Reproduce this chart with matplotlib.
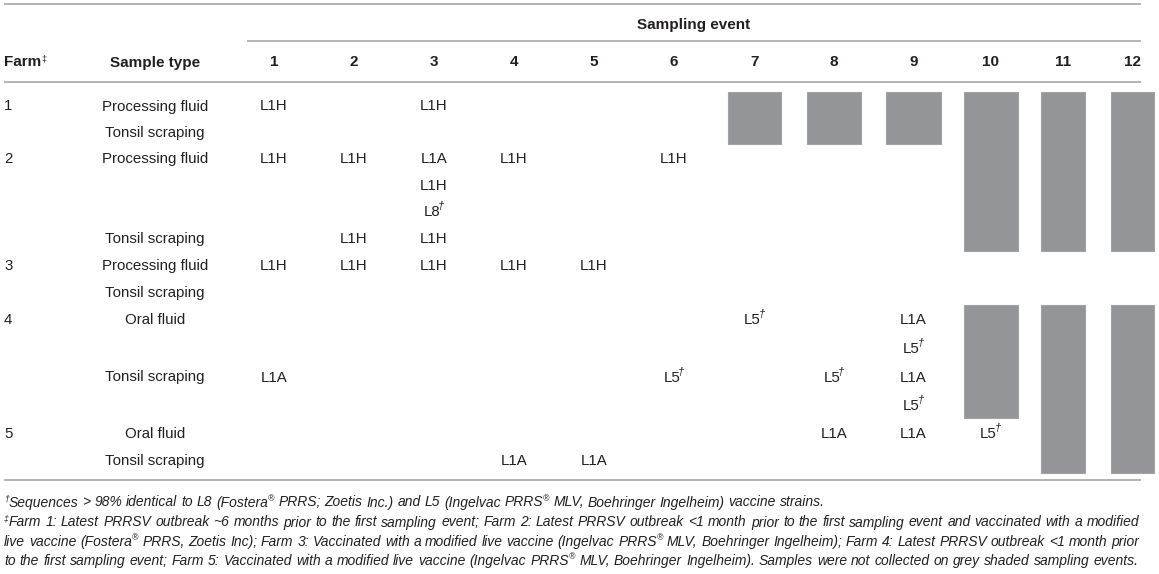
import matplotlib
matplotlib.use("Agg")
import matplotlib.pyplot as plt
from matplotlib import font_manager as fm

# ---------------- data ----------------
events = ["1", "2", "3", "4", "5", "6", "7", "8", "9", "10", "11", "12"]
farm_labels = ["1", "", "2", "", "", "", "3", "", "4", "", "", "", "5", ""]
sample_labels = ["Processing fluid", "Tonsil scraping",
                 "Processing fluid", "", "", "Tonsil scraping",
                 "Processing fluid", "Tonsil scraping",
                 "Oral fluid", "", "Tonsil scraping", "",
                 "Oral fluid", "Tonsil scraping"]
# (row index, sampling event, lineage, vaccine-like flag)
detections = [
    (0, 1, "L1H", False), (0, 3, "L1H", False),
    (2, 1, "L1H", False), (2, 2, "L1H", False), (2, 3, "L1A", False),
    (2, 4, "L1H", False), (2, 6, "L1H", False),
    (3, 3, "L1H", False), (4, 3, "L8", True),
    (5, 2, "L1H", False), (5, 3, "L1H", False),
    (6, 1, "L1H", False), (6, 2, "L1H", False), (6, 3, "L1H", False),
    (6, 4, "L1H", False), (6, 5, "L1H", False),
    (8, 7, "L5", True), (8, 9, "L1A", False),
    (9, 9, "L5", True),
    (10, 1, "L1A", False), (10, 6, "L5", True), (10, 8, "L5", True),
    (10, 9, "L1A", False),
    (11, 9, "L5", True),
    (12, 8, "L1A", False), (12, 9, "L1A", False), (12, 10, "L5", True),
    (13, 4, "L1A", False), (13, 5, "L1A", False),
]
# (sampling event, first row, last row) not collected
shaded = [(7, 0, 1), (8, 0, 1), (9, 0, 1),
          (10, 0, 5), (10, 8, 11),
          (11, 0, 5), (11, 8, 13),
          (12, 0, 5), (12, 8, 13)]
header_title = "Sampling event"
footnote1 = ("†Sequences > 98% identical to L8 (Fostera® PRRS; Zoetis Inc.) and L5 "
             "(Ingelvac PRRS® MLV, Boehringer Ingelheim) vaccine strains.")
footnote2_lines = [
    "‡Farm 1: Latest PRRSV outbreak ~6 months prior to the first sampling event; Farm 2: "
    "Latest PRRSV outbreak <1 month prior to the first sampling event and vaccinated with a modified",
    "live vaccine (Fostera® PRRS, Zoetis Inc); Farm 3: Vaccinated with a modified live vaccine "
    "(Ingelvac PRRS® MLV, Boehringer Ingelheim); Farm 4: Latest PRRSV outbreak <1 month prior",
    "to the first sampling event; Farm 5: Vaccinated with a modified live vaccine (Ingelvac "
    "PRRS® MLV, Boehringer Ingelheim). Samples were not collected on grey shaded sampling events.",
]

# ---------------- layout ----------------
W, H = 1159, 574
col_x = [274, 354, 434, 514, 594, 674, 754.5, 834, 913.5, 990.5, 1063, 1132.5]
box_w = [53, 53, 53, 53, 53, 53, 53, 54, 55, 54, 44, 43]
row_edges = [92, 118, 144, 171, 197, 224, 251, 278, 305, 333, 362, 390, 418, 446, 473]
row_y = [(row_edges[i] + row_edges[i + 1]) / 2 for i in range(len(row_edges) - 1)]
TXT = "#231f20"
LINE = "#b3b3b3"
GREY = "#939598"

names = {f.name for f in fm.fontManager.ttflist}
BODY = "Liberation Sans" if "Liberation Sans" in names else "DejaVu Sans"
NARROW = "Liberation Sans Narrow" if "Liberation Sans Narrow" in names else BODY

fig = plt.figure(figsize=(W / 100, H / 100), dpi=100)
ax = fig.add_axes([0, 0, 1, 1])
ax.set_xlim(0, W)
ax.set_ylim(H, 0)
ax.axis("off")
renderer = fig.canvas.get_renderer()


def width_of(s, size, **kw):
    t = ax.text(0, 0, s, fontsize=size, **kw)
    w = t.get_window_extent(renderer).width
    t.remove()
    return w


# rules
for x0, x1, y in [(4, 1141, 4), (247, 1141, 41), (4, 1141, 82), (4, 1141, 480)]:
    ax.plot([x0, x1], [y, y], color=LINE, lw=1.4, solid_capstyle="butt")

# header
HS = 11
ax.text(694, 28.5, header_title, fontsize=HS, fontweight="bold", family=BODY,
        color=TXT, ha="center", va="baseline")
ax.text(4, 66.5, "Farm", fontsize=HS, fontweight="bold", family=BODY,
        color=TXT, ha="left", va="baseline")
fw = width_of("Farm", HS, fontweight="bold", family=BODY)
ax.text(4 + fw + 0.5, 61, "‡", fontsize=6.5, family=BODY, color=TXT,
        ha="left", va="baseline")
ax.text(155, 66.5, "Sample type", fontsize=HS, fontweight="bold", family=BODY,
        color=TXT, ha="center", va="baseline")
for i, ev in enumerate(events):
    ax.text(col_x[i], 66.5, ev, fontsize=HS, fontweight="bold", family=BODY,
            color=TXT, ha="center", va="baseline")

# shaded (not collected) blocks
for ev, r0, r1 in shaded:
    ax.bar(col_x[ev - 1], row_edges[r1 + 1] - row_edges[r0], bottom=row_edges[r0],
           width=box_w[ev - 1], color=GREY, edgecolor="#a2a3a6", linewidth=0.8,
           align="center", zorder=1)

# body
BS = 10.8
for r, (f, s) in enumerate(zip(farm_labels, sample_labels)):
    if f:
        ax.text(4, row_y[r] + 5.5, f, fontsize=BS, family=BODY, color=TXT,
                ha="left", va="baseline")
    if s:
        ax.text(155, row_y[r] + 5.5, s, fontsize=BS, family=BODY, color=TXT,
                ha="center", va="baseline")

DS = 8
dag_w = width_of("†", DS, family=BODY, fontstyle="italic")
for r, ev, lab, vac in detections:
    x = col_x[ev - 1]
    y = row_y[r] + 5.5
    if vac:
        lw = width_of(lab, BS, family=BODY)
        x0 = x - (lw + dag_w - 2) / 2
        ax.text(x0, y, lab, fontsize=BS, family=BODY, color=TXT, ha="left",
                va="baseline", zorder=3)
        ax.text(x0 + lw - 2, y - 7, "†", fontsize=DS, family=BODY,
                fontstyle="italic", color=TXT, ha="left", va="baseline", zorder=3)
    else:
        ax.text(x, y, lab, fontsize=BS, family=BODY, color=TXT, ha="center",
                va="baseline", zorder=3)

# footnotes
SUPS = "®†‡"


def runs(word):
    out = []
    for ch in word:
        sup = ch in SUPS
        if out and out[-1][1] == sup:
            out[-1][0] += ch
        else:
            out.append([ch, sup])
    return out


def word_width(word, size):
    tot = 0
    for txt, sup in runs(word):
        tot += width_of(txt, size * (0.62 if sup else 1.0), family=NARROW,
                        fontstyle="italic")
    return tot


def space_w(size):
    return (width_of("a a", size, family=NARROW, fontstyle="italic")
            - 2 * width_of("a", size, family=NARROW, fontstyle="italic"))


def natural(line, size):
    ws = line.split(" ")
    return sum(word_width(w, size) for w in ws) + (len(ws) - 1) * space_w(size)


def draw_line(line, y, size, left=4, right=1139, justify=True):
    words = line.split(" ")
    widths = [word_width(w, size) for w in words]
    if justify and len(words) > 1:
        gap = (right - left - sum(widths)) / (len(words) - 1)
    else:
        gap = space_w(size)
    x = left
    for w, ww in zip(words, widths):
        xx = x
        for txt, sup in runs(w):
            sz = size * (0.62 if sup else 1.0)
            ax.text(xx, y - (5.5 if sup else 0), txt, fontsize=sz, family=NARROW,
                    fontstyle="italic", color=TXT, ha="left", va="baseline")
            xx += width_of(txt, sz, family=NARROW, fontstyle="italic")
        x += ww + gap


base = 10.0
FS = min(base * 1132.0 / natural(ln, base) for ln in footnote2_lines)
FS = max(min(FS, 12.0), 8.0)

draw_line(footnote1, 506.5, FS, justify=False)
for i, ln in enumerate(footnote2_lines):
    draw_line(ln, 526.5 + 19.3 * i, FS, justify=True)

fig.savefig("out.png", dpi=100)
